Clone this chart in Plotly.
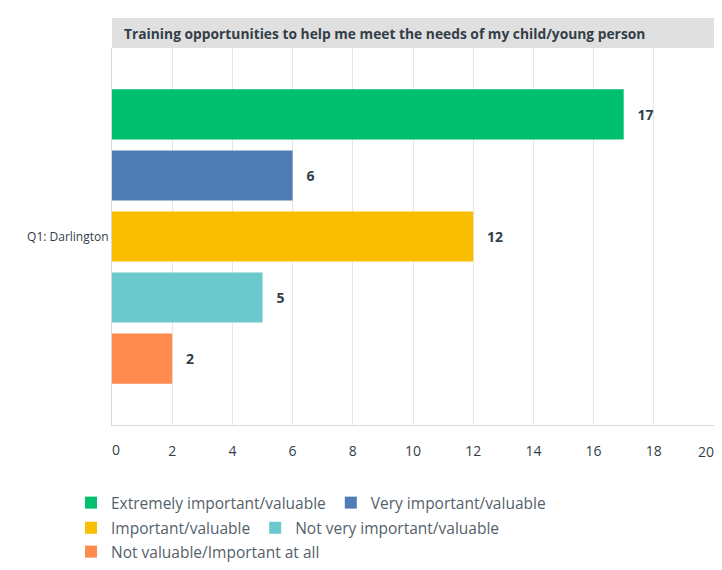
import plotly.graph_objects as go

category = ["Q1: Darlington"]
series_names = [
    "Extremely important/valuable",
    "Very important/valuable",
    "Important/valuable",
    "Not very important/valuable",
    "Not valuable/Important at all",
]
series_values = [17, 6, 12, 5, 2]
series_colors = ["#00bf6f", "#507cb6", "#f9be00", "#6bc8cd", "#ff8b4f"]
x_ticks_mid = [2, 4, 6, 8, 10, 12, 14, 16, 18]
x_tick_first = [0]
x_tick_last = [20]
title_text = "Training opportunities to help me meet the needs of my child/young person"

# legend row each series belongs to (row layout of the reference legend)
legend_rows = ["legend", "legend", "legend2", "legend2", "legend3"]

FONT = "'Open Sans', sans-serif"
DARK = "#333e48"
NB = "\u00a0"

fig = go.Figure()
for name, val, col, lg in zip(series_names, series_values, series_colors, legend_rows):
    fig.add_trace(go.Bar(
        y=category, x=[val], name=name, orientation="h",
        marker=dict(color=col, line=dict(width=0)),
        text=[NB * 3 + str(val)], textposition="outside",
        textfont=dict(family=FONT, size=14, color=DARK, weight="bold"),
        cliponaxis=False, legend=lg,
        hovertemplate="%{x}<extra>" + name + "</extra>",
    ))

legend_common = dict(
    orientation="h", x=-0.0681, xanchor="left", yanchor="middle",
    font=dict(family=FONT, size=15.5, color="#555f6b"),
    traceorder="normal", itemsizing="constant", bgcolor="rgba(0,0,0,0)",
)

tick_common = dict(
    range=[0, 20], ticks="", automargin=False,
    tickfont=dict(family=FONT, size=14, color=DARK), fixedrange=True,
    zeroline=False,
)

fig.update_layout(
    width=706, height=562,
    margin=dict(l=104, r=0, t=40, b=145, autoexpand=False),
    paper_bgcolor="white", plot_bgcolor="white",
    barmode="group", bargap=0.19, bargroupgap=0.18,
    font=dict(family=FONT, size=13, color=DARK),
    showlegend=True,
    legend=dict(legend_common, y=-0.207),
    legend2=dict(legend_common, y=-0.274),
    legend3=dict(legend_common, y=-0.337),
    xaxis=dict(
        tick_common, ticklabelstandoff=13,
        tickvals=[0] + x_ticks_mid + [20], ticktext=[""] + [str(t) for t in x_ticks_mid] + [""],
        showgrid=True, gridcolor="#e6e6e6", gridwidth=1,
        showline=True, linecolor="#d9d9d9",
    ),
    xaxis2=dict(
        tick_common, ticklabelstandoff=15, overlaying="x", matches="x", side="bottom",
        tickvals=x_tick_first, ticktext=[str(t) for t in x_tick_first],
        ticklabelposition="outside right", showgrid=False, showline=False,
    ),
    xaxis3=dict(
        tick_common, ticklabelstandoff=17, overlaying="x", matches="x", side="bottom",
        tickvals=x_tick_last, ticktext=[str(t) for t in x_tick_last],
        ticklabelposition="outside left", showgrid=False, showline=False,
    ),
    yaxis=dict(
        autorange="reversed", showgrid=False, zeroline=False,
        showline=True, linecolor="#d9d9d9", ticks="", automargin=False,
        tickfont=dict(family=FONT, size=12, color=DARK), fixedrange=True,
    ),
    shapes=[dict(
        type="rect", xref="paper", yref="paper", x0=0, x1=1,
        y0=1, y1=1 + 30 / 377, fillcolor="#e0e0e0", line=dict(width=0), layer="above",
    )],
    annotations=[dict(
        text="<b>" + title_text + "</b>", xref="paper", yref="paper",
        x=0, y=1 + 15 / 377, xanchor="left", yanchor="middle", xshift=10,
        showarrow=False, font=dict(family=FONT, size=13.8, color=DARK),
    )],
)

# invisible helper traces so the overlay axes (end tick labels) are drawn
for ax in ["x2", "x3"]:
    fig.add_trace(go.Scatter(
        x=[0, 20], y=category * 2, xaxis=ax, mode="markers",
        marker=dict(opacity=0), showlegend=False, hoverinfo="skip",
    ))

fig.write_html("out.html")
